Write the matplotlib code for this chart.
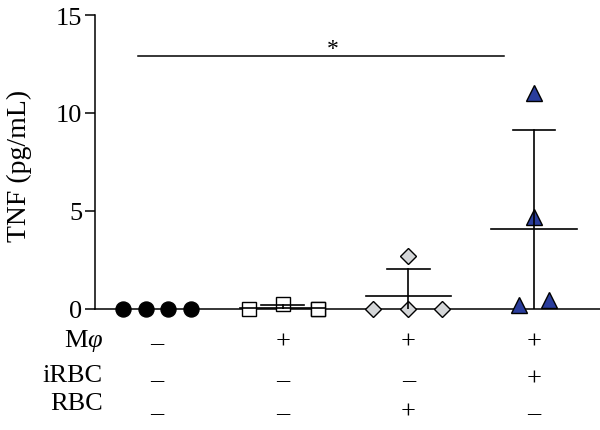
import numpy as np
import matplotlib.pyplot as plt

plt.rcParams['font.family'] = ['Liberation Serif', 'DejaVu Serif']
plt.rcParams['mathtext.fontset'] = 'custom'
plt.rcParams['mathtext.rm'] = 'Liberation Serif'
plt.rcParams['mathtext.it'] = 'Liberation Serif:italic'

# TNF values (pg/mL), four wells per condition
ctrl = [0.0, 0.0, 0.0, 0.0]
mphi = [0.0, 0.25, 0.0, 0.0]
mphi_rbc = [0.0, 2.7, 0.0, 0.0]
mphi_irbc = [0.2, 4.7, 11.0, 0.45]
groups = [ctrl, mphi, mphi_rbc, mphi_irbc]

row_names = ['M$\\varphi$', 'iRBC', 'RBC']
signs = [['–', '+', '+', '+'],
         ['–', '–', '–', '+'],
         ['–', '–', '+', '–']]

# horizontal spread of points inside each group
offsets = [[-0.27, -0.09, 0.09, 0.27],
           [-0.27, 0.0, 0.28, 0.28],
           [-0.28, 0.0, 0.0, 0.27],
           [-0.12, 0.0, 0.0, 0.12]]
markers = ['o', 's', 'D', '^']
faces = ['black', 'white', '#d4d6d8', '#2a3d9c']
msizes = [10.8, 10, 8, 11]

fig = plt.figure(figsize=(6, 4.31), dpi=100)
ax = fig.add_axes([95/600, 121/431, 505/600, 294/431])

for i, vals in enumerate(groups):
    xc = i + 1
    xs = xc + np.array(offsets[i])
    ax.plot(xs, vals, ls='none', marker=markers[i], ms=msizes[i],
            mfc=faces[i], mec='black', mew=1.0, clip_on=False, zorder=3)
    if i == 0:
        continue
    m = np.mean(vals)
    sd = np.std(vals, ddof=1)
    ax.plot([xc - 0.34, xc + 0.34], [m, m], color='black', lw=1.2, zorder=4)
    ax.plot([xc - 0.17, xc + 0.17], [m + sd, m + sd], color='black', lw=1.2, zorder=4)
    ax.plot([xc, xc], [max(m - sd, 0), m + sd], color='black', lw=1.2, zorder=4)

# significance bar
ax.plot([0.85, 3.76], [12.9, 12.9], color='black', lw=1.1)
ax.text(2.4, 12.75, '*', ha='center', va='bottom', fontsize=17)

ax.set_xlim(0.507, 4.525)
ax.set_ylim(0, 15)
ax.set_yticks([0, 5, 10, 15])
ax.set_xticks([])
ax.tick_params(axis='y', labelsize=19, length=7, width=1.1, pad=2)
for s in ['top', 'right']:
    ax.spines[s].set_visible(False)
for s in ['left', 'bottom']:
    ax.spines[s].set_linewidth(1.1)
ax.set_ylabel('TNF (pg/mL)', fontsize=20)
ax.yaxis.set_label_coords(-0.125, 0.49)

# condition table below the axis
trans = ax.get_xaxis_transform()
label_base = [347, 382, 410]
sign_base = [349, 386, 419]
for r, name in enumerate(row_names):
    fig.text(103/600, 1 - label_base[r]/431, name, ha='right', va='baseline', fontsize=19)
    for g in range(4):
        ax.text(g + 1, -(sign_base[r] - 310)/294, signs[r][g], transform=trans,
                ha='center', va='baseline', fontsize=19)

fig.savefig('out.png', dpi=100)
